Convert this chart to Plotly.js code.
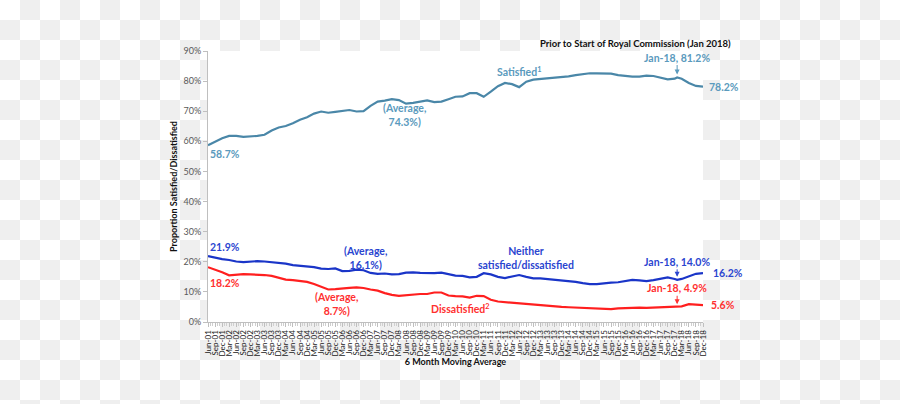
<!DOCTYPE html>
<html>
<head>
<meta charset="utf-8">
<script src="https://cdn.plot.ly/plotly-3.0.1.min.js"></script>
<style>
  html, body { margin: 0; padding: 0; }
  body {
    width: 900px; height: 404px; overflow: hidden;
    background: repeating-conic-gradient(#efefef 0% 25%, #ffffff 0% 50%) 0 0 / 40px 40px;
  }
  #chart { width: 900px; height: 404px; }
</style>
</head>
<body>
<div id="chart"></div>
<script>
// Months (quarterly readings, plus Jan-18 reference point)
const months = [
  '2001-06','2001-09','2001-12',
  '2002-03','2002-06','2002-09','2002-12',
  '2003-03','2003-06','2003-09','2003-12',
  '2004-03','2004-06','2004-09','2004-12',
  '2005-03','2005-06','2005-09','2005-12',
  '2006-03','2006-06','2006-09','2006-12',
  '2007-03','2007-06','2007-09','2007-12',
  '2008-03','2008-06','2008-09','2008-12',
  '2009-03','2009-06','2009-09','2009-12',
  '2010-03','2010-06','2010-09','2010-12',
  '2011-03','2011-06','2011-09','2011-12',
  '2012-03','2012-06','2012-09','2012-12',
  '2013-03','2013-06','2013-09','2013-12',
  '2014-03','2014-06','2014-09','2014-12',
  '2015-03','2015-06','2015-09','2015-12',
  '2016-03','2016-06','2016-09','2016-12',
  '2017-03','2017-06','2017-09','2017-12',
  '2018-01',
  '2018-03','2018-06','2018-09','2018-12'
];

const satisfied = [58.7,59.8,61.0, 61.8,61.8,61.5,61.6, 61.8,62.2,63.6,64.6, 65.1,66.0,67.2,68.0,
  69.2,69.9,69.5,69.8, 70.2,70.4,69.9,70.0, 71.8,73.2,73.5,74.0, 73.7,72.5,72.8,73.3,
  73.6,73.0,73.2,74.0, 74.8,74.9,76.0,76.0, 74.8,76.5,78.3,79.4, 79.0,78.0,79.8,80.5,
  80.7,81.0,81.1,81.4, 81.6,82.0,82.3,82.6, 82.6,82.6,82.5,82.0, 81.7,81.5,81.5,81.8,
  81.7,81.2,80.6,80.8, 81.2, 80.8,79.4,78.4,78.2];

const neither = [21.9,21.3,20.9, 20.6,20.1,19.9,20.1, 20.2,20.1,19.9,19.8, 19.4,18.9,18.7,18.5,
  18.2,17.7,17.6,17.8, 16.9,17.0,17.4,17.2, 16.3,16.0,16.1,15.8, 15.9,16.4,16.5,16.3,
  16.2,16.2,16.4,16.0, 15.4,15.3,14.8,15.0, 16.2,15.8,15.0,14.6, 15.1,15.6,15.0,14.5,
  14.5,14.3,14.1,13.9, 13.7,13.3,12.9,12.6, 12.6,12.9,13.1,13.2, 13.5,14.0,13.8,13.6,
  13.9,14.4,14.8,14.3, 14.0, 14.3,15.2,16.0,16.2];

const dissatisfied = [18.2,17.4,16.5, 15.5,15.8,15.9,15.8, 15.8,15.6,15.3,14.7, 14.1,13.9,13.7,13.3,
  12.6,11.7,10.8,10.9, 11.2,11.3,11.5,11.3, 10.8,10.4,9.6,9.0, 8.7,8.9,9.3,9.3,
  9.3,9.8,9.8,8.8, 8.6,8.5,8.1,8.7, 8.6,7.4,6.8,6.6, 6.3,6.1,5.9,5.6,
  5.4,5.2,5.0,5.0, 4.9,4.8,4.8,4.8, 4.6,4.4,4.3,4.5, 4.6,4.8,4.8,4.7,
  4.8,4.8,4.9,4.9, 4.9, 5.2,5.9,5.8,5.6];

const seriesNames = ['Satisfied', 'Neither satisfied/dissatisfied', 'Dissatisfied'];
const averages = [74.3, 16.1, 8.7];
const refMonth = '2018-01';
const refLabel = 'Jan-18';

const cSat = '#4a87a8', cSatTxt = '#5a9abd';
const cNei = '#1a35c8', cNeiTxt = '#2a45d0';
const cDis = '#ff1f1f', cDisTxt = '#ff3030';
const fam = 'Lato, "Open Sans", sans-serif';

const last = months.length - 1;
const refIdx = months.indexOf(refMonth);
const fmt = v => v.toFixed(1) + '%';

const traces = [
  {x: months, y: satisfied, name: seriesNames[0], mode: 'lines', line: {color: cSat, width: 2.2}},
  {x: months, y: neither, name: seriesNames[1], mode: 'lines', line: {color: cNei, width: 2.2}},
  {x: months, y: dissatisfied, name: seriesNames[2], mode: 'lines', line: {color: cDis, width: 2.2}}
];

function lab(text, x, y, color, opts) {
  return Object.assign({text: '<b>' + text + '</b>', x: x, y: y, xref: 'x', yref: 'y',
    showarrow: false, font: {family: fam, size: 10.5, color: color}}, opts || {});
}
function refArrow(val, color, ay) {
  return Object.assign(lab(refLabel + ', ' + fmt(val), refMonth, val, color),
    {showarrow: true, ax: 0, ay: ay, arrowcolor: color, arrowhead: 2, arrowsize: 1,
     arrowwidth: 1, standoff: 3});
}

const annotations = [
  // start values
  lab(fmt(satisfied[0]), months[0], satisfied[0], cSatTxt, {xanchor: 'left', yshift: -1, yanchor: 'top'}),
  lab(fmt(neither[0]), months[0], neither[0], cNeiTxt, {xanchor: 'left', yshift: 1, yanchor: 'bottom'}),
  lab(fmt(dissatisfied[0]), months[0], dissatisfied[0], cDisTxt, {xanchor: 'left', yshift: -8, yanchor: 'top'}),
  // end values
  lab(fmt(satisfied[last]), months[last], satisfied[last], cSatTxt, {xanchor: 'left', xshift: 4}),
  lab(fmt(neither[last]), months[last], neither[last], cNeiTxt, {xanchor: 'left', xshift: 8}),
  lab(fmt(dissatisfied[last]), months[last], dissatisfied[last], cDisTxt, {xanchor: 'left', xshift: 6}),
  // averages
  lab('(Average,<br>' + fmt(averages[0]) + ')', '2008-05-15', 68.8, cSatTxt, {align: 'center'}),
  lab('(Average,<br>' + fmt(averages[1]) + ')', '2007-01-01', 21.2, cNeiTxt, {align: 'center'}),
  lab('(Average,<br>' + fmt(averages[2]) + ')', '2005-12-15', 6.0, cDisTxt, {align: 'center'}),
  // series names
  lab('Satisfied<sup>1</sup>', '2012-06-01', 83.2, cSatTxt),
  lab('Neither<br>satisfied/dissatisfied', '2012-09-01', 21.2, cNeiTxt, {align: 'center'}),
  lab('Dissatisfied<sup>2</sup>', '2010-05-01', 4.6, cDisTxt),
  // Jan-18 markers
  refArrow(satisfied[refIdx], cSatTxt, -20),
  refArrow(neither[refIdx], cNeiTxt, -18),
  refArrow(dissatisfied[refIdx], cDisTxt, -19),
  // heading
  {text: '<b>Prior to Start of Royal Commission (Jan 2018)</b>', xref: 'paper', yref: 'paper',
   x: 1.06, y: 1.027, xanchor: 'right', yanchor: 'middle', showarrow: false,
   font: {family: fam, size: 9.5, color: '#111111'}}
];

const layout = {
  width: 900, height: 404,
  margin: {l: 208, r: 197, t: 51, b: 82, pad: 0},
  paper_bgcolor: 'rgba(0,0,0,0)',
  plot_bgcolor: '#ffffff',
  showlegend: false,
  xaxis: {
    type: 'date',
    range: [months[0], months[last]],
    tick0: months[0], dtick: 'M3', tickformat: '%b-%y',
    tickangle: -90, ticks: 'outside', ticklen: 4, tickcolor: '#bfbfbf',
    minor: {dtick: 'M1', ticks: 'outside', ticklen: 3, tickcolor: '#cfcfcf', showgrid: false},
    showline: true, linecolor: '#bfbfbf', linewidth: 1,
    showgrid: false, zeroline: false,
    tickfont: {family: fam, size: 8, color: '#222222'},
    title: {text: '<b>6 Month Moving Average</b>', standoff: 2, font: {family: fam, size: 9, color: '#111111'}}
  },
  yaxis: {
    range: [0, 90], dtick: 10, ticksuffix: '%',
    ticks: 'outside', ticklen: 4, tickcolor: '#bfbfbf',
    showline: true, linecolor: '#bfbfbf', linewidth: 1,
    showgrid: false, zeroline: false,
    tickfont: {family: fam, size: 9, color: '#595959'},
    title: {text: '<b>Proportion Satisfied/Dissatisfied</b>', standoff: 4, font: {family: fam, size: 9, color: '#111111'}}
  },
  annotations: annotations
};

Plotly.newPlot('chart', traces, layout, {displayModeBar: false, staticPlot: true});
</script>
</body>
</html>
